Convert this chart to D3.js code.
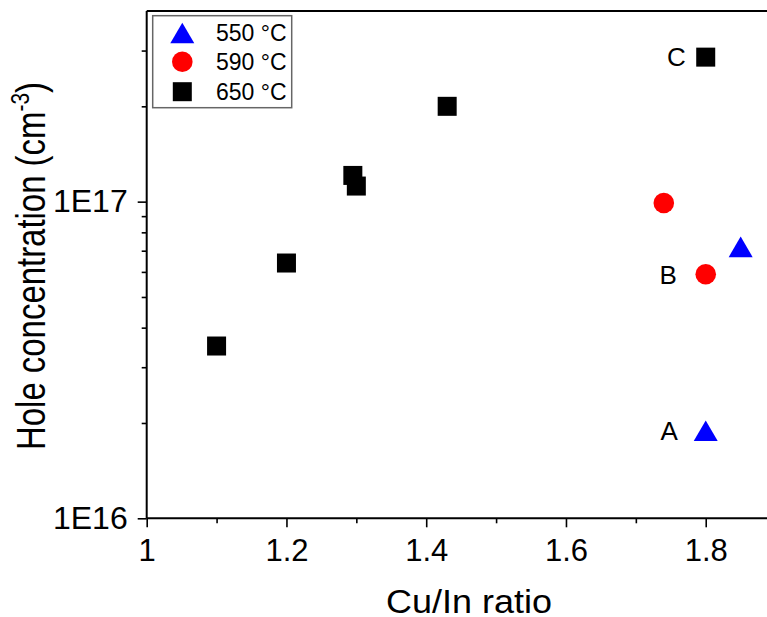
<!DOCTYPE html>
<html>
<head>
<meta charset="utf-8">
<script src="https://cdn.jsdelivr.net/npm/d3@7"></script>
<style>
  body { margin: 0; background: #fff; }
  svg { display: block; font-family: "Liberation Sans", Arial, sans-serif; }
</style>
</head>
<body>
<div class="chart"></div>
<script>
// data
const ratio550 = [1.85, 1.80];
const conc550 = [7.2e16, 1.89e16];
const ratio590 = [1.74, 1.80];
const conc590 = [0.99e17, 5.9e16];
const ratio650 = [1.10, 1.20, 1.295, 1.30, 1.43, 1.80];
const conc650 = [3.5e16, 6.4e16, 1.21e17, 1.12e17, 2.0e17, 2.86e17];
const seriesNames = ['550 °C', '590 °C', '650 °C'];
const seriesColors = ['#0000ff', '#ff0000', '#000000'];
const pointLabels = ['A', 'B', 'C'];
const labelRatio = [1.80, 1.80, 1.80];
const labelConc = [1.89e16, 5.9e16, 2.86e17];
const xMajor = [1, 1.2, 1.4, 1.6, 1.8];
const xMinor = [1.1, 1.3, 1.5, 1.7, 1.9];
const yMajor = [1e16, 1e17];
const yMinor = [2e16, 3e16, 4e16, 5e16, 6e16, 7e16, 8e16, 9e16, 2e17, 3e17];

function renderChart(){
  const width = 767, height = 617;
  const left = 146.7, right = 775.6, top = 11, bottom = 518.3;

  const svg = d3.select('.chart')
    .append('svg')
      .attr('width', width)
      .attr('height', height);

  const x = d3.scaleLinear().domain([1, 1.9]).range([left, right]);
  const y = d3.scaleLog().domain([1e16, 4e17]).range([bottom, top]);

  // top spine (right spine falls outside the picture)
  svg.append('line')
    .attr('x1', left).attr('x2', right)
    .attr('y1', top).attr('y2', top)
    .attr('stroke', '#000').attr('stroke-width', 2);

  const xAxis = svg.append('g')
    .attr('transform', `translate(0,${bottom})`)
    .call(d3.axisBottom(x).tickValues(xMajor).tickSize(9).tickPadding(12)
      .tickFormat(d => d3.format('')(+d.toFixed(1))));
  svg.append('g')
    .attr('transform', `translate(0,${bottom})`)
    .call(d3.axisBottom(x).tickValues(xMinor).tickSize(5).tickFormat(''))
    .call(g => g.select('.domain').remove());

  const yAxis = svg.append('g')
    .attr('transform', `translate(${left},0)`)
    .call(d3.axisLeft(y).tickValues(yMajor).tickSize(9).tickPadding(10)
      .tickFormat(d => '1E' + Math.round(Math.log10(d))));
  svg.append('g')
    .attr('transform', `translate(${left},0)`)
    .call(d3.axisLeft(y).tickValues(yMinor).tickSize(5).tickFormat(''))
    .call(g => g.select('.domain').remove());

  svg.selectAll('.domain').attr('stroke-width', 2);
  xAxis.select('.domain').attr('d', `M${left},0H${right}`);
  yAxis.select('.domain').attr('d', `M0,${bottom}V${top}`);
  svg.selectAll('.tick line').attr('stroke-width', 1.6);
  svg.selectAll('.tick text')
    .attr('fill', '#000')
    .attr('font-family', '"Liberation Sans", Arial, sans-serif');
  xAxis.selectAll('.tick text').attr('font-size', 31);
  yAxis.selectAll('.tick text').attr('font-size', 32);

  // axis titles
  svg.append('text')
    .attr('x', 469).attr('y', 613)
    .attr('text-anchor', 'middle')
    .attr('font-size', 33)
    .attr('textLength', 166)
    .attr('lengthAdjust', 'spacingAndGlyphs')
    .text('Cu/In ratio');

  const yt = svg.append('text')
    .attr('transform', `translate(45,266) rotate(-90)`)
    .attr('text-anchor', 'middle')
    .attr('font-size', 41)
    .attr('textLength', 368)
    .attr('lengthAdjust', 'spacingAndGlyphs');
  yt.append('tspan').text('Hole concentration (cm');
  yt.append('tspan').attr('font-size', 26).attr('dy', -16).text('-3');
  yt.append('tspan').attr('dy', 16).text(')');

  // markers
  const tri = s => `M0,${-s*0.43}L${s/2},${s*0.43}L${-s/2},${s*0.43}Z`;
  function drawSeries(xs, ys, color, kind){
    const pts = xs.map((v, i) => ({ r: v, c: ys[i] }));
    const g = svg.append('g').attr('fill', color);
    if(kind === 0){
      g.selectAll('path').data(pts).enter().append('path')
        .attr('d', tri(24))
        .attr('transform', d => `translate(${x(d.r)},${y(d.c)})`);
    } else if(kind === 1){
      g.selectAll('circle').data(pts).enter().append('circle')
        .attr('r', 10.3)
        .attr('cx', d => x(d.r))
        .attr('cy', d => y(d.c));
    } else {
      g.selectAll('rect').data(pts).enter().append('rect')
        .attr('width', 19).attr('height', 19)
        .attr('x', d => x(d.r) - 9.5)
        .attr('y', d => y(d.c) - 9.5);
    }
  }
  drawSeries(ratio550, conc550, seriesColors[0], 0);
  drawSeries(ratio590, conc590, seriesColors[1], 1);
  drawSeries(ratio650, conc650, seriesColors[2], 2);

  // point labels A, B, C
  const labelDx = [-28, -29, -20];
  svg.selectAll('.plabel')
    .data(pointLabels)
    .enter().append('text')
    .attr('class', 'plabel')
    .attr('x', (d, i) => x(labelRatio[i]) + labelDx[i])
    .attr('y', (d, i) => y(labelConc[i]))
    .attr('dy', '0.36em')
    .attr('text-anchor', 'end')
    .attr('font-size', 26)
    .text(d => d);

  // legend
  const legend = svg.append('g');
  legend.append('rect')
    .attr('x', 152.7).attr('y', 15.7)
    .attr('width', 139).attr('height', 92)
    .attr('fill', '#fff')
    .attr('stroke', '#666')
    .attr('stroke-width', 1.5);
  const rowY = [33, 61.7, 91.7];
  seriesNames.forEach((name, i) => {
    const gx = 182.3, gy = rowY[i];
    if(i === 0){
      legend.append('path').attr('d', tri(24))
        .attr('transform', `translate(${gx},${gy})`).attr('fill', seriesColors[i]);
    } else if(i === 1){
      legend.append('circle').attr('cx', gx).attr('cy', gy).attr('r', 10.3)
        .attr('fill', seriesColors[i]);
    } else {
      legend.append('rect').attr('x', gx - 9.5).attr('y', gy - 9.5)
        .attr('width', 19).attr('height', 19).attr('fill', seriesColors[i]);
    }
    legend.append('text')
      .attr('x', 216).attr('y', gy + 7.8)
      .attr('font-size', 23)
      .text(name);
  });
}

renderChart();
</script>
</body>
</html>
